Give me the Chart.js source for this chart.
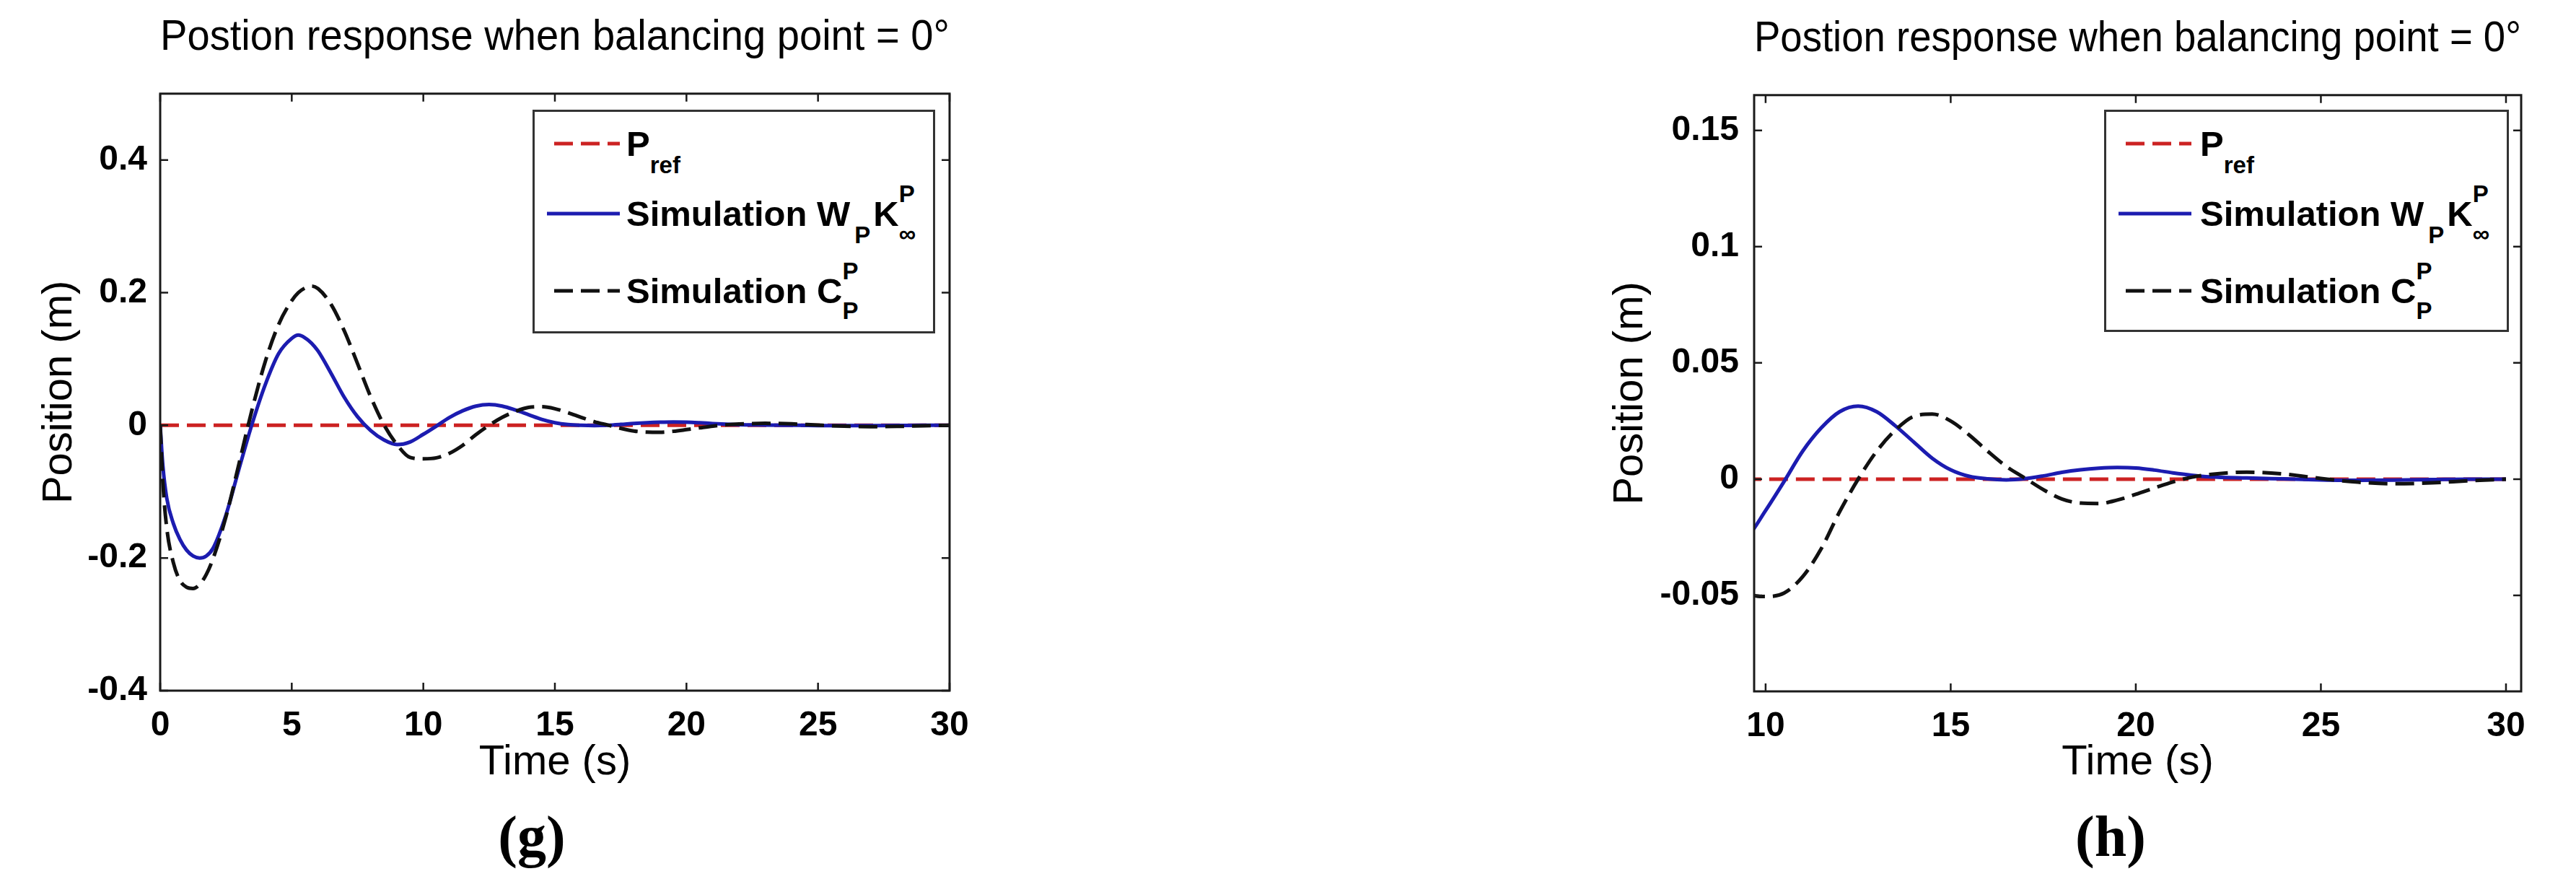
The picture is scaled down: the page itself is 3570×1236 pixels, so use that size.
<!DOCTYPE html>
<html>
<head>
<meta charset="utf-8">
<script src="https://cdn.jsdelivr.net/npm/chart.js@4.4.0/dist/chart.umd.min.js"></script>
<style>
  body { margin: 0; background: #fff; width: 3570px; height: 1236px; position: relative; overflow: hidden; }
  canvas, svg.legend, .tag { position: absolute; }
  svg.legend text { font-family: 'Liberation Sans', Arial, sans-serif; font-weight: bold; font-size: 49px; fill: #000; }
  .tag { font-family: 'Liberation Serif', 'Times New Roman', serif; font-weight: bold; font-size: 80px; line-height: 1; transform: translateX(-50%); top: 1119px; }
</style>
</head>
<body>
<canvas id="chart-g" width="1400" height="1100" style="left:0;top:0"></canvas>
<canvas id="chart-h" width="1420" height="1100" style="left:2150px;top:0"></canvas>
<div class="tag" style="left:737px">(g)</div>
<div class="tag" style="left:2925px">(h)</div>
<script>
// time axis shared by both simulations (s)
const timeS = [0, 0.1, 0.25, 0.5, 0.75, 1, 1.25, 1.5, 1.75, 2,
    2.5, 3, 3.5, 4, 4.5, 5, 5.25, 5.5, 5.75, 6, 6.5, 7,
    7.5, 8, 8.5, 9, 9.5, 10, 10.5, 11, 11.5, 12,
    12.5, 13, 13.5, 14, 14.5, 15, 15.5, 16, 16.5, 17,
    17.5, 18, 18.5, 19, 19.5, 20, 20.5, 21, 21.5, 22,
    23, 24, 25, 26, 27, 28, 29, 30]

// Simulation W_P K_inf^P (blue)
const posHinf = [0, -0.06, -0.11, -0.148, -0.172, -0.188, -0.197, -0.2, -0.197, -0.186,
    -0.135, -0.065, 0.003, 0.062, 0.108, 0.131, 0.136, 0.132, 0.124, 0.112, 0.078, 0.042,
    0.013, -0.008, -0.022, -0.029, -0.025, -0.0135, -0.001, 0.012, 0.022, 0.029,
    0.0314, 0.029, 0.023, 0.016, 0.009, 0.004, 0.0012, 0.0001, -0.0003, 0.0002,
    0.0014, 0.0029, 0.004, 0.0047, 0.005, 0.0048, 0.0039, 0.0027, 0.0017, 0.001,
    0.0005, 0.0001, -0.0003, -0.0005, -0.0004, -0.0002, 0, 0]

// Simulation C_P^P (black dashed)
const posCp = [0, -0.085, -0.155, -0.207, -0.234, -0.244, -0.246, -0.24, -0.225, -0.202,
    -0.138, -0.057, 0.025, 0.097, 0.152, 0.188, 0.2, 0.207, 0.21, 0.206, 0.182, 0.142,
    0.093, 0.043, 0.001, -0.029, -0.0485, -0.0505, -0.049, -0.042, -0.03, -0.014,
    0, 0.012, 0.021, 0.027, 0.028, 0.025, 0.019, 0.012, 0.0055, 0.0005,
    -0.0045, -0.0085, -0.0103, -0.0105, -0.009, -0.0065, -0.0038, -0.0012, 0.0008, 0.002,
    0.003, 0.0022, 0.0003, -0.0013, -0.002, -0.0016, -0.0007, 0]

// reference position
const refTime = [0, 30]
const refPos = [0, 0]

// tick labels
const xTicksG = [0, 5, 10, 15, 20, 25, 30]
const yTicksG = [-0.4, -0.2, 0, 0.2, 0.4]
const xTicksH = [10, 15, 20, 25, 30]
const yTicksH = [-0.05, 0, 0.05, 0.1, 0.15]

const titleText = 'Postion response when balancing point = 0\u00b0'
const RED = '#cc2222'
const BLUE = '#1c1cb0'
const BLACK = '#111111'

Chart.defaults.font.family = "'Liberation Sans', Arial, sans-serif"
Chart.defaults.color = '#000'

function series(xs, ys) {
    return xs.map((t, i) => ({ x: t, y: ys[i] }))
}

// MATLAB style box with inward ticks on all four sides
const boxPlugin = {
    id: 'matlabBox',
    afterDraw(chart) {
        const { ctx, chartArea: a, scales: { x, y } } = chart
        ctx.save()
        ctx.strokeStyle = '#1a1a1a'
        ctx.lineWidth = 3
        ctx.strokeRect(a.left, a.top, a.right - a.left, a.bottom - a.top)
        ctx.lineWidth = 2.5
        ctx.beginPath()
        x.ticks.forEach(t => {
            const px = x.getPixelForValue(t.value)
            ctx.moveTo(px, a.bottom); ctx.lineTo(px, a.bottom - 11)
            ctx.moveTo(px, a.top); ctx.lineTo(px, a.top + 11)
        })
        y.ticks.forEach(t => {
            const py = y.getPixelForValue(t.value)
            ctx.moveTo(a.left, py); ctx.lineTo(a.left + 11, py)
            ctx.moveTo(a.right, py); ctx.lineTo(a.right - 11, py)
        })
        ctx.stroke()
        ctx.restore()
    }
}

function makeChart(id, o) {
    return new Chart(document.getElementById(id), {
        type: 'line',
        data: {
            datasets: [
                { label: 'P ref', data: series(refTime, refPos), borderColor: RED, borderDash: [26, 11], order: 3 },
                { label: 'Simulation W P K inf P', data: series(timeS, posHinf), borderColor: BLUE, order: 2 },
                { label: 'Simulation C P P', data: series(timeS, posCp), borderColor: BLACK, borderDash: [26, 11], order: 1 }
            ]
        },
        options: {
            responsive: false,
            animation: false,
            layout: { padding: { left: 0, top: 0, bottom: 0, right: o.padRight } },
            elements: {
                point: { radius: 0 },
                line: { borderWidth: 5, cubicInterpolationMode: 'monotone', fill: false }
            },
            scales: {
                x: {
                    type: 'linear',
                    min: o.xMin,
                    max: o.xMax,
                    afterBuildTicks: s => { s.ticks = o.xTicks.map(v => ({ value: v })) },
                    afterFit: s => { s.height = o.xHeight },
                    grid: { display: false },
                    border: { display: false },
                    ticks: { font: { size: 48, weight: 'bold' }, padding: 12, maxRotation: 0, callback: v => String(v) },
                    title: { display: true, text: 'Time (s)', font: { size: 58 }, padding: { top: 0, bottom: 8 } }
                },
                y: {
                    min: o.yMin,
                    max: o.yMax,
                    afterBuildTicks: s => { s.ticks = o.yTicks.map(v => ({ value: v })) },
                    afterFit: s => { s.width = o.yWidth },
                    grid: { display: false },
                    border: { display: false },
                    ticks: { font: { size: 48, weight: 'bold' }, padding: o.yTickPad, callback: v => String(v) },
                    title: { display: true, text: 'Position (m)', font: { size: 58 }, padding: { top: o.yTitlePad, bottom: 0 } }
                }
            },
            plugins: {
                legend: { display: false },
                tooltip: { enabled: false },
                title: {
                    display: true,
                    text: titleText,
                    fullSize: false,
                    font: { size: 59, weight: 'normal' },
                    color: '#000',
                    padding: { top: o.titleTop, bottom: 42 }
                }
            }
        },
        plugins: [boxPlugin]
    })
}

makeChart('chart-g', { xMin: 0, xMax: 30, yMin: -0.4, yMax: 0.5, xTicks: xTicksG, yTicks: yTicksG,
    yWidth: 222, xHeight: 143, padRight: 84, yTickPad: 10, yTitlePad: 48, titleTop: 17 })
makeChart('chart-h', { xMin: 9.69, xMax: 30.41, yMin: -0.0913, yMax: 0.1652, xTicks: xTicksH, yTicks: yTicksH,
    yWidth: 281, xHeight: 142, padRight: 76, yTickPad: 13, yTitlePad: 75, titleTop: 19 })

// legends with sub/superscripts
function legendSvg(left, top, w, h, textX) {
    const svg = `
<svg class="legend" xmlns="http://www.w3.org/2000/svg" width="${w}" height="${h}" style="left:${left}px;top:${top}px">
  <rect x="1.5" y="1.5" width="${w - 3}" height="${h - 3}" fill="#fff" stroke="#333" stroke-width="3"/>
  <line x1="30" y1="47" x2="121" y2="47" stroke="${RED}" stroke-width="5" stroke-dasharray="26 11"/>
  <text x="${textX}" y="64">P<tspan dy="24" font-size="33">ref</tspan></text>
  <line x1="20" y1="144" x2="121" y2="144" stroke="${BLUE}" stroke-width="5"/>
  <text x="${textX}" y="161">Simulation W<tspan dx="6" dy="24" font-size="33">P</tspan><tspan dx="4" dy="-24">K</tspan><tspan dy="-33" font-size="33">P</tspan><tspan dx="-22" dy="55" font-size="33">\u221e</tspan></text>
  <line x1="30" y1="251" x2="121" y2="251" stroke="${BLACK}" stroke-width="5" stroke-dasharray="26 11"/>
  <text x="${textX}" y="268">Simulation C<tspan dy="-33" font-size="33">P</tspan><tspan dx="-22" dy="55" font-size="33">P</tspan></text>
</svg>`
    document.body.insertAdjacentHTML('beforeend', svg)
}

legendSvg(738, 152, 558, 310, 130)
legendSvg(2916, 152, 561, 308, 133)
</script>
</body>
</html>
